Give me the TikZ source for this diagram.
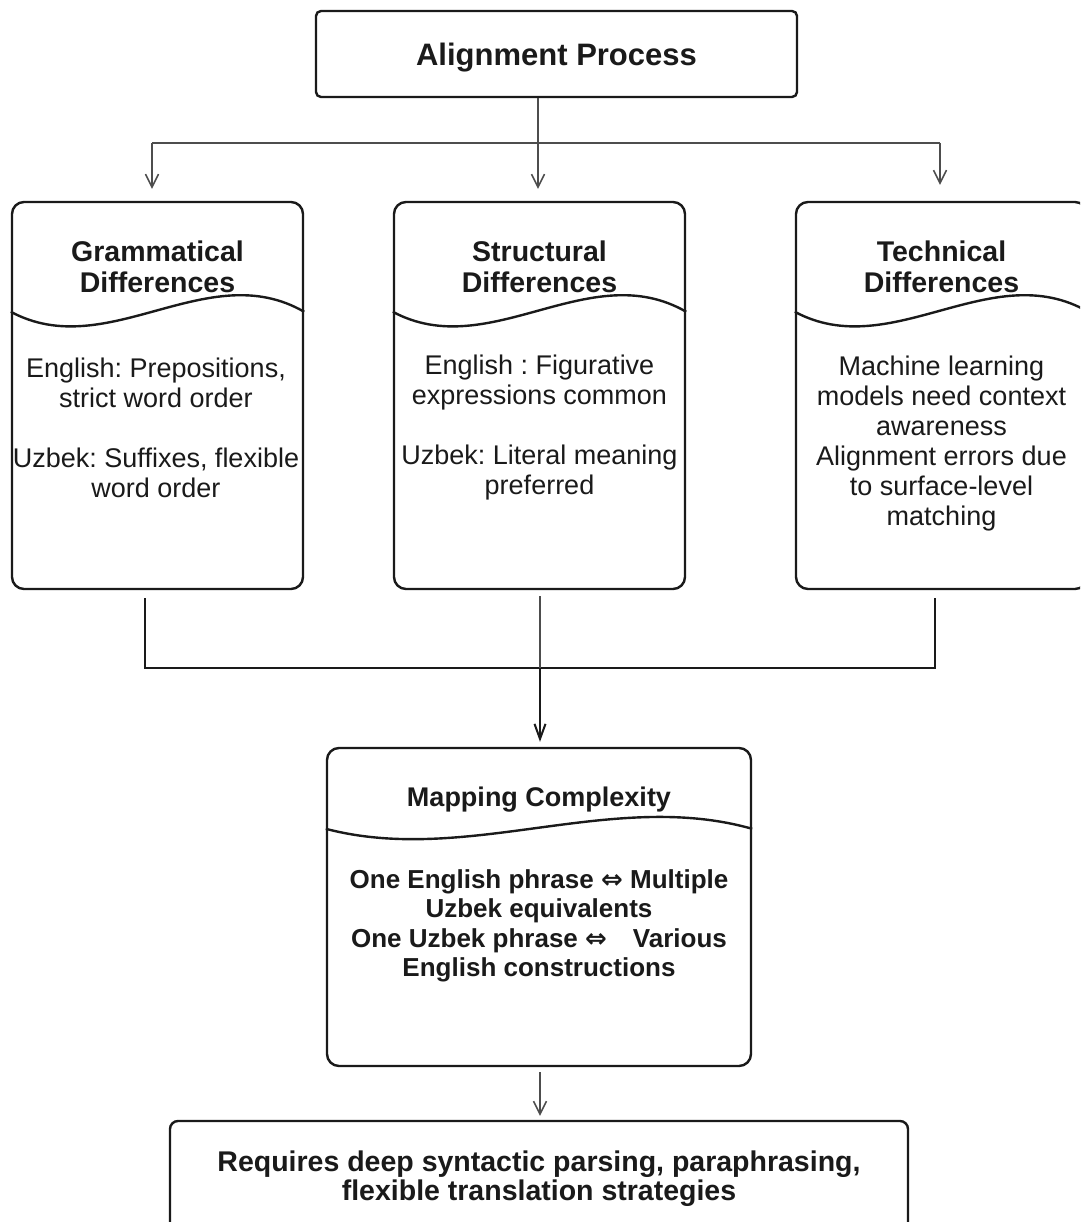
\documentclass[tikz,border=0pt]{standalone}
\usepackage{fontspec}
\setmainfont{Liberation Sans}
\newfontfamily\symfont{DejaVu Sans}
\usetikzlibrary{arrows.meta,calc}
\newcommand\fsz[2]{\fontsize{#1}{#2}\selectfont}
\definecolor{edgegray}{HTML}{4D4D4D}
\definecolor{ink}{HTML}{1A1A1A}
\frenchspacing
\begin{document}
\frenchspacing
\begin{tikzpicture}[x=1pt,y=-1pt,
  frame/.style={draw=ink, line width=2.4pt, rounded corners=12pt, inner sep=0pt, fill=white},
  colbox/.style={frame, minimum width=291pt, minimum height=387pt},
  wave/.style={draw=ink, line width=2.4pt},
  ttl/.style={align=center, font=\fsz{28.5}{31}\bfseries, text=ink},
  body/.style={align=center, font=\fsz{27}{30}, text=ink},
  lightline/.style={draw=edgegray, line width=1.5pt},
  lightarrow/.style={lightline, -{Straight Barb[length=13pt,width=13pt,line width=1.5pt]}},
  heavyline/.style={draw=ink, line width=2.6pt},
  heavyarrow/.style={heavyline, -{Straight Barb[length=15pt,width=11pt,line width=2pt]}}
]
\useasboundingbox (0,0) rectangle (1080,1222);
\clip (0,0) rectangle (1080,1222);
\fill[white] (0,0) rectangle (1080,1222);

% top box
\node[frame, rounded corners=5pt, minimum width=481pt, minimum height=86pt] (top) at (556.5,54) {};
\node[font=\fsz{31}{36}\bfseries, text=ink] (toptxt) at (556.5,58) {Alignment Process};

% column boxes
\node[colbox] (g) at (157.5,395.5) {};
\node[colbox] (s) at (539.5,395.5) {};
\node[colbox] (t) at (941.5,395.5) {};

\node[ttl] (gt) at (157.5,267) {Grammatical\\Differences};
\node[ttl] (st) at (539.5,267) {Structural\\Differences};
\node[ttl] (tt) at (941.5,267) {Technical\\Differences};

\draw[wave] ($(g.north west)+(0,111)$) .. controls +(97,52) and +(-97,-56) .. ($(g.north east)+(0,111)$);
\draw[wave] ($(s.north west)+(0,111)$) .. controls +(97,52) and +(-97,-56) .. ($(s.north east)+(0,111)$);
\draw[wave] ($(t.north west)+(0,111)$) .. controls +(97,52) and +(-97,-56) .. ($(t.north east)+(0,111)$);

\node[body] (gb) at (156,428) {English: Prepositions,\\strict word order\\[30pt]Uzbek: Suffixes, flexible\\word order};
\node[body] (sb) at (539.5,428) {English : Figurative\\expressions common\\[30pt]Uzbek: Literal meaning\\preferred};
\node[body] (tb) at (941.5,444) {Machine learning\\models need context\\awareness\\ Alignment errors due\\to surface-level\\matching};

% mapping box
\node[frame, minimum width=424pt, minimum height=318pt] (m) at (539,907) {};
\node[ttl, font=\fsz{27}{30}\bfseries] (mt) at (539,800) {Mapping Complexity};
\draw[wave] ($(m.north west)+(0,82)$) .. controls +(141,37) and +(-141,-40) .. ($(m.north east)+(0,82)$);
\node[align=center, font=\fsz{26}{29.5}\bfseries, text=ink] (mb) at (539,926)
  {One English phrase {\symfont ⇔} Multiple\\Uzbek equivalents\\One Uzbek phrase {\symfont ⇔}\quad Various\\English constructions};

% bottom box
\node[frame, rounded corners=8pt, minimum width=738pt, minimum height=130pt] (b) at (539,1186) {};
\node[align=center, font=\fsz{28.5}{29}\bfseries, text=ink] (bt) at (539,1179)
  {Requires deep syntactic parsing, paraphrasing,\\flexible translation strategies};

% top connectors
\coordinate (hl) at (152,143);
\coordinate (hr) at (940,143);
\coordinate (hc) at (538,143);
\draw[lightline] (hl) -- (hr);
\draw[lightarrow] (top.south -| hc) -- ([yshift=12pt]s.north -| hc);
\draw[lightarrow] (hl) -- ([yshift=12pt]g.north -| hl);
\draw[lightarrow] (hr) -- ([yshift=16pt]t.north -| hr);

% bottom connectors
\coordinate (bl) at (145,598);
\coordinate (br) at (935,598);
\coordinate (bc) at (540,596);
\coordinate (jn) at (540,668);
\draw[heavyline] (bl) -- (bl |- jn) -- (br |- jn) -- (br);
\draw[lightline] (bc) -- (jn);
\draw[heavyarrow] (jn) -- ([yshift=5pt]m.north -| jn);

\coordinate (mc) at (540,1072);
\draw[lightarrow] (mc) -- ([yshift=4pt]b.north -| mc);
\end{tikzpicture}
\end{document}
